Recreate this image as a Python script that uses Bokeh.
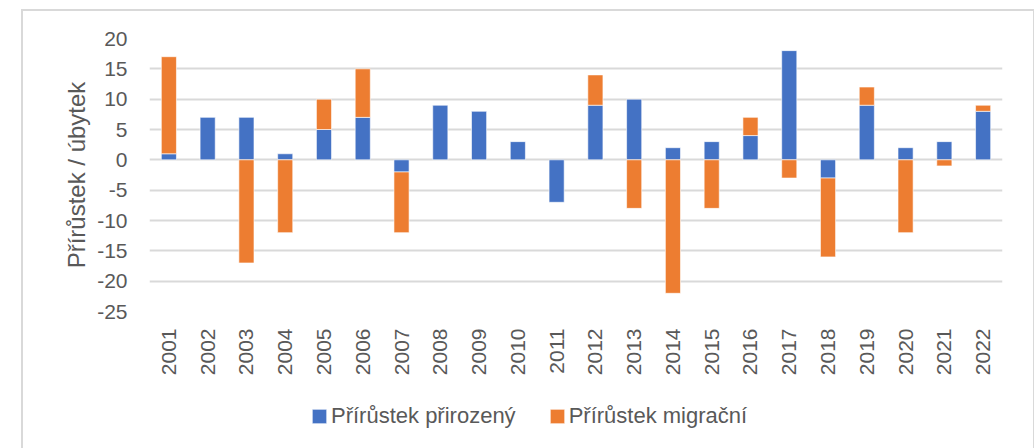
import numpy as np
from bokeh.plotting import figure
from bokeh.layouts import column
from bokeh.models import (ColumnDataSource, FactorRange, Range1d, Legend, LegendItem,
                          SingleIntervalTicker, PrintfTickFormatter)
from bokeh.embed import file_html
from bokeh.resources import INLINE

years = [str(y) for y in range(2001, 2023)]
natural = [1, 7, 7, 1, 5, 7, -2, 9, 8, 3, -7, 9, 10, 2, 3, 4, 18, -3, 9, 2, 3, 8]
migration = [16, 0, -17, -12, 5, 8, -10, 0, 0, 0, 0, 5, -8, -22, -8, 3, -3, -13, 3, -12, -1, 1]
series_names = ["Přírůstek přirozený", "Přírůstek migrační"]
colors = ["#4472C4", "#ED7D31"]

nat = np.array(natural, dtype=float)
mig = np.array(migration, dtype=float)
mig_base = np.where(mig >= 0, np.maximum(nat, 0), np.minimum(nat, 0))

nat_src = ColumnDataSource(dict(x=years, bottom=np.zeros_like(nat), top=nat))
keep = mig != 0
mig_src = ColumnDataSource(dict(x=[y for y, k in zip(years, keep) if k],
                                bottom=mig_base[keep], top=(mig_base + mig)[keep]))

FONT = "Liberation Sans"
GREY = "#595959"
EDGE = "2px solid #d9d9d9"

# ---- main chart ----
p = figure(x_range=FactorRange(factors=years, range_padding=0),
           y_range=Range1d(-25, 20),
           width=1010, height=390, output_backend="svg", toolbar_location=None,
           min_border_left=126, min_border_right=31, min_border_top=27,
           min_border_bottom=90)
p.outline_line_color = None

bar_kw = dict(width=0.39, line_color="#ffffff", line_alpha=0.6, line_width=1)
r1 = p.vbar(x="x", bottom="bottom", top="top", source=nat_src, fill_color=colors[0], **bar_kw)
r2 = p.vbar(x="x", bottom="bottom", top="top", source=mig_src, fill_color=colors[1], **bar_kw)

p.xgrid.visible = False
p.ygrid.grid_line_color = "#d9d9d9"
p.ygrid.grid_line_width = 2

ya = p.yaxis[0]
ya.ticker = SingleIntervalTicker(interval=5)
ya.formatter = PrintfTickFormatter(format="%d")
ya.axis_line_color = None
ya.major_tick_line_color = None
ya.minor_tick_line_color = None
ya.major_tick_out = 0
ya.minor_tick_out = 0
ya.major_label_text_font = FONT
ya.major_label_text_font_size = "21px"
ya.major_label_text_color = GREY
ya.major_label_standoff = 22
ya.axis_label = "Přírůstek / úbytek"
ya.axis_label_text_font = FONT
ya.axis_label_text_font_size = "24px"
ya.axis_label_text_font_style = "normal"
ya.axis_label_text_color = GREY
ya.axis_label_standoff = 4

xa = p.xaxis[0]
xa.axis_line_color = None
xa.major_tick_line_color = None
xa.minor_tick_line_color = None
xa.major_tick_out = 0
xa.minor_tick_out = 0
xa.major_label_orientation = np.pi / 2
xa.major_label_text_font = FONT
xa.major_label_text_font_size = "21px"
xa.major_label_text_color = GREY
xa.major_label_standoff = 17

# ---- legend strip (frame aligned with the chart frame by the column layout) ----
lf = figure(width=1010, height=47, output_backend="svg", toolbar_location=None,
            x_axis_location=None, y_axis_location=None, min_border=0,
            x_range=Range1d(0, 1), y_range=Range1d(0, 1))
lf.grid.visible = False
lf.outline_line_color = None
# off-view placeholder glyphs, only used as legend swatches
d1 = lf.vbar(x=[-5], top=[-5], bottom=[-6], fill_color=colors[0], **bar_kw)
d2 = lf.vbar(x=[-5], top=[-5], bottom=[-6], fill_color=colors[1], **bar_kw)

legend = Legend(items=[LegendItem(label=series_names[0], renderers=[d1]),
                       LegendItem(label=series_names[1], renderers=[d2])],
                orientation="horizontal", location=(161, 19))
legend.border_line_color = None
legend.background_fill_alpha = 0
legend.padding = 0
legend.margin = 0
legend.spacing = 32
legend.glyph_width = 18
legend.glyph_height = 18
legend.label_standoff = 3
legend.label_text_font = FONT
legend.label_text_font_size = "22px"
legend.label_text_color = GREY
lf.add_layout(legend, "center")

layout = column(p, lf, spacing=0, margin=(9, 0, 0, 21),
                styles={"border-top": EDGE, "border-left": EDGE, "border-right": EDGE,
                        "box-sizing": "border-box"})

open("out.html", "w").write(file_html(layout, INLINE))
